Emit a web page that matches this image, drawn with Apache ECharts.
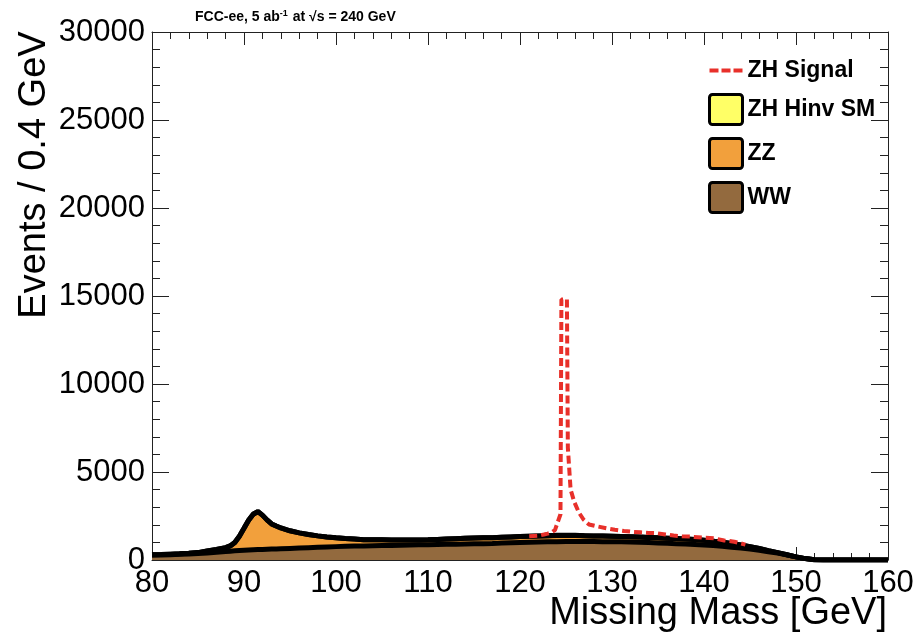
<!DOCTYPE html>
<html>
<head>
<meta charset="utf-8">
<script src="https://cdn.jsdelivr.net/npm/echarts@6/dist/echarts.min.js"></script>
<style>
html,body{margin:0;padding:0;background:#fff;}
#chart{width:917px;height:634px;}
</style>
</head>
<body>
<div id="chart"></div>
<script>
// Missing mass bin positions (GeV)
const mass = [
  80,81,82,83,84,85,86,87,88,88.5,
  89,89.5,90,90.5,91,91.5,92,92.5,93,93.5,
  94,95,96,97,98,99,100,101,102,103,
  104,105,106,107,108,109,110,111,112,113,
  114,115,116,117,118,119,120,121,122,123,
  124,125,126,127,128,129,130,131,132,133,
  134,135,136,137,138,139,140,141,142,143,
  144,145,146,147,148,149,150,151,152,153,
  154,155,156,157,158,159,160
];
// WW background (events / 0.4 GeV)
const wwEvents = [
  280,290,300,320,340,370,400,440,480,500,
  520,535,550,565,580,590,600,610,620,630,
  640,660,680,700,720,740,760,780,790,800,
  810,820,830,840,850,860,870,880,890,900,
  910,920,930,940,960,980,1000,1010,1020,1030,
  1040,1050,1050,1050,1050,1040,1040,1030,1020,1010,
  990,970,950,930,910,880,850,820,780,730,
  680,620,550,470,390,290,180,80,20,0,
  0,0,0,0,0,0,0
];
// ZZ background
const zzEvents = [
  20,20,30,30,40,50,120,160,220,300,
  480,820,1250,1690,2020,2160,1950,1670,1430,1300,
  1180,1000,860,750,650,570,500,440,400,350,
  340,330,310,300,290,280,280,290,300,310,
  320,330,330,330,330,330,330,340,350,350,
  350,340,340,330,320,320,310,310,300,290,
  290,290,290,290,280,280,270,250,230,210,
  180,140,100,60,30,10,0,0,0,0,
  0,0,0,0,0,0,0
];
// ZH H->inv (SM)
const hinvEvents = [
  0,0,0,0,0,0,0,0,0,0,
  0,0,0,0,0,0,0,0,0,0,
  0,0,0,0,0,0,0,0,0,0,
  0,0,0,0,0,0,0,0,0,0,
  0,0,0,0,0,0,0,0,0,4,
  12,20,10,4,0,0,0,0,0,0,
  0,0,0,0,0,0,0,0,0,0,
  0,0,0,0,0,0,0,0,0,0,
  0,0,0,0,0,0,0
];
// ZH signal (stacked on background)
const sigMass = [
  121.0,122.0,122.6,123.0,123.4,123.8,124.2,124.4,124.5,125.1,
  125.2,125.5,125.9,126.4,126.9,127.5,128.2,129.4,130.3,131.3,
  132.2,133.1,134.0,134.9,135.8,136.7,137.6,138.5,139.8,141.1,
  142.2,143.3,144.5
];
const sigTotal = [
  1350,1380,1450,1500,1560,1700,2300,2600,14800,14800,
  6400,4000,3300,2700,2300,2020,1930,1800,1720,1650,
  1600,1570,1540,1520,1450,1390,1350,1330,1270,1230,
  1110,1040,870
];

const FONT = '"Liberation Sans", Arial, Helvetica, sans-serif';
const cWW = '#936a3e', cZZ = '#f2a03c', cHinv = '#ffff66', cSig = '#e8302a';

const wwData = mass.map((m, i) => [m, wwEvents[i]]);
const zzData = mass.map((m, i) => [m, wwEvents[i] + zzEvents[i]]);
const hinvData = mass.map((m, i) => [m, wwEvents[i] + zzEvents[i] + hinvEvents[i]]);
const sigData = sigMass.map((m, i) => [m, sigTotal[i]]);

const chart = echarts.init(document.getElementById('chart'), null, {renderer: 'canvas'});

const xCommon = {
  type: 'value', min: 80, max: 160, interval: 10,
  splitLine: {show: false},
  axisLine: {show: true, onZero: false, lineStyle: {color: '#222', width: 1}},
  axisTick: {show: true, inside: true, length: 13, lineStyle: {color: '#222', width: 1}},
  minorTick: {show: true, splitNumber: 5, length: 7, lineStyle: {color: '#222', width: 1}}
};
const yCommon = {
  type: 'value', min: 0, max: 30000, interval: 5000,
  splitLine: {show: false},
  axisLine: {show: true, onZero: false, lineStyle: {color: '#222', width: 1}},
  axisTick: {show: true, inside: true, length: 17, lineStyle: {color: '#222', width: 1}},
  minorTick: {show: true, splitNumber: 5, length: 8, lineStyle: {color: '#222', width: 1}}
};

const dashIcon = 'path://M0,0H9V4H0Z M12,0H21V4H12Z M24,0H33V4H24Z';
const boxIcon = 'path://M3,0H30A3,3 0 0 1 33,3V27A3,3 0 0 1 30,30H3A3,3 0 0 1 0,27V3A3,3 0 0 1 3,0Z';

const option = {
  animation: false,
  backgroundColor: '#fff',
  grid: {left: 152, right: 29, top: 32, bottom: 74, containLabel: false},
  xAxis: [
    Object.assign({}, xCommon, {position: 'bottom',
      axisLabel: {show: true, fontSize: 31, fontFamily: FONT, color: '#000', margin: 8,
        formatter: v => String(v)}}),
    Object.assign({}, xCommon, {position: 'top', axisLabel: {show: false}})
  ],
  yAxis: [
    Object.assign({}, yCommon, {position: 'left',
      axisLabel: {show: true, fontSize: 31, fontFamily: FONT, color: '#000', margin: 7,
        formatter: v => String(v)}}),
    Object.assign({}, yCommon, {position: 'right', axisLabel: {show: false}})
  ],
  legend: {
    orient: 'vertical', left: 703, top: 54,
    itemWidth: 33, itemHeight: 30, itemGap: 11,
    textStyle: {fontFamily: FONT, fontWeight: 'bold', fontSize: 23, color: '#000'},
    data: [
      {name: 'ZH Signal', icon: dashIcon, itemStyle: {color: cSig, borderWidth: 0}},
      {name: 'ZH Hinv SM', icon: boxIcon, itemStyle: {color: cHinv, borderColor: '#000', borderWidth: 3}},
      {name: 'ZZ', icon: boxIcon, itemStyle: {color: cZZ, borderColor: '#000', borderWidth: 3}},
      {name: 'WW', icon: boxIcon, itemStyle: {color: cWW, borderColor: '#000', borderWidth: 3}}
    ]
  },
  series: [
    {
      name: 'ZH Hinv SM', type: 'line', data: hinvData, showSymbol: false, symbol: 'none',
      itemStyle: {color: cHinv},
      lineStyle: {color: '#000', width: 5},
      areaStyle: {color: cHinv, opacity: 1}
    },
    {
      name: 'ZZ', type: 'line', data: zzData, showSymbol: false, symbol: 'none',
      itemStyle: {color: cZZ},
      lineStyle: {color: '#000', width: 5},
      areaStyle: {color: cZZ, opacity: 1}
    },
    {
      name: 'WW', type: 'line', data: wwData, showSymbol: false, symbol: 'none',
      itemStyle: {color: cWW},
      lineStyle: {color: '#000', width: 5},
      areaStyle: {color: cWW, opacity: 1}
    },
    {
      name: 'ZH Signal', type: 'line', data: sigData, showSymbol: false, symbol: 'none',
      itemStyle: {color: cSig},
      lineStyle: {color: cSig, width: 4, type: [8, 4]}
    }
  ],
  graphic: [
    {
      type: 'text', x: 195, y: 9,
      style: {
        text: 'FCC-ee, 5 ab{sup|-1} at √s = 240 GeV',
        fontSize: 14, fontWeight: 'bold', fontFamily: FONT, fill: '#000',
        rich: {sup: {fontSize: 9, fontWeight: 'bold', fontFamily: FONT, fill: '#000', padding: [0, 1, 7, 0]}}
      }
    },
    {
      type: 'text', x: 35, y: 175, rotation: Math.PI / 2,
      style: {
        text: 'Events / 0.4 GeV', x: 0, y: 0, align: 'center', verticalAlign: 'middle',
        fontSize: 38, fontFamily: FONT, fill: '#000'
      }
    },
    {
      type: 'text', x: 887, y: 614,
      style: {
        text: 'Missing Mass [GeV]', x: 0, y: 0, align: 'right', verticalAlign: 'middle',
        fontSize: 38, fontFamily: FONT, fill: '#000'
      }
    }
  ]
};
chart.setOption(option);
</script>
</body>
</html>
